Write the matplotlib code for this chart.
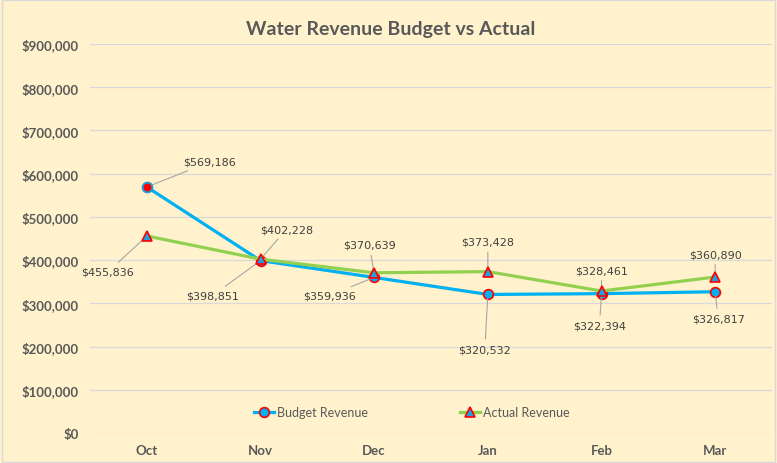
import matplotlib
matplotlib.use("Agg")
import matplotlib.pyplot as plt
from matplotlib.ticker import FuncFormatter, MultipleLocator
from matplotlib.patches import Rectangle

months = ["Oct", "Nov", "Dec", "Jan", "Feb", "Mar"]
budget = [569186, 398851, 359936, 320532, 322394, 326817]
actual = [455836, 402228, 370639, 373428, 328461, 360890]

# label offsets in pixels (dx, dy)
budget_off = [(63, 25), (-48, -35), (-45, -18), (-3, -55), (-2, -32), (3, -27)]
actual_off = [(-39, -36), (26, 30), (-5, 28), (0, 30), (0, 21), (0, 23)]

BG = "#FFF2CC"
BLUE = "#00B0F0"
GREEN = "#92D050"
RED = "#FF0000"
TXT = "#595959"

fig = plt.figure(figsize=(7.77, 4.64), dpi=100, facecolor=BG)
ax = fig.add_axes([90/777, 1-434/464, 682/777, 389/464])
ax.set_facecolor(BG)
fig.patches.append(Rectangle((0.002, 0.002), 0.996, 0.996, transform=fig.transFigure,
                             fill=False, edgecolor="#D9D9D9", lw=1))

x = list(range(len(months)))
ax.plot(x, budget, color=BLUE, lw=2.3, marker="o", ms=7, mfc=BLUE, mec=RED, mew=1.2,
        label="Budget Revenue", zorder=3)
ax.plot(x, actual, color=GREEN, lw=2.3, marker="^", ms=7.5, mfc="#1FA0E0", mec=RED, mew=1.2,
        label="Actual Revenue", zorder=4)
# first budget marker red with blue edge
ax.plot([x[0]], [budget[0]], ls="none", marker="o", ms=7, mfc=RED, mec=BLUE, mew=1.2, zorder=5)

for xi, v, off in zip(x, budget, budget_off):
    ax.annotate(f"${v:,.0f}", (xi, v), xytext=off, textcoords="offset pixels",
                ha="center", va="center", fontsize=8, color="#404040",
                arrowprops=dict(arrowstyle="-", color="#A6A6A6", lw=0.8, shrinkA=2, shrinkB=3))
for xi, v, off in zip(x, actual, actual_off):
    ax.annotate(f"${v:,.0f}", (xi, v), xytext=off, textcoords="offset pixels",
                ha="center", va="center", fontsize=8, color="#404040",
                arrowprops=dict(arrowstyle="-", color="#A6A6A6", lw=0.8, shrinkA=2, shrinkB=3))

ax.set_xlim(-0.5, len(months) - 0.5)
ax.set_ylim(0, 900000)
ax.yaxis.set_major_locator(MultipleLocator(100000))
ax.yaxis.set_major_formatter(FuncFormatter(lambda v, p: f"${v:,.0f}"))
ax.set_xticks(x)
ax.set_xticklabels(months)
ax.grid(axis="y", color="#D9D9D9", lw=0.9)
ax.set_axisbelow(True)
for s in ax.spines.values():
    s.set_visible(False)
ax.tick_params(length=0, pad=8, colors=TXT)
for lab in ax.get_xticklabels() + ax.get_yticklabels():
    lab.set_fontfamily("Lato")
    lab.set_fontweight("bold")
    lab.set_fontsize(9.5)
    lab.set_color(TXT)

fig.text(391/777, 1-30/464, "Water Revenue Budget vs Actual", ha="center", va="center",
         fontsize=14, fontweight="bold", family="Lato", color=TXT)

leg = ax.legend(loc="center", bbox_to_anchor=(412/777, 1-413/464), bbox_transform=fig.transFigure,
                ncol=2, frameon=False, columnspacing=7.4, handlelength=1.6, handletextpad=0.2,
                prop={"family": "Lato", "size": 9})
for t in leg.get_texts():
    t.set_color(TXT)

fig.savefig("out.png", dpi=100, facecolor=BG)
